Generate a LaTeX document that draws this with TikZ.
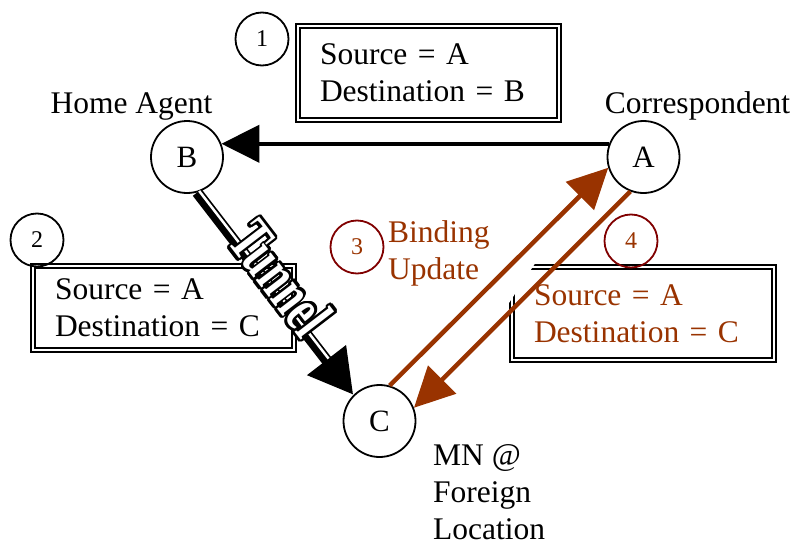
\documentclass[tikz,border=0pt]{standalone}
\usepackage{fontspec}
\setmainfont{Liberation Serif}
\usepackage{contour}
\usetikzlibrary{arrows.meta}

\definecolor{rust}{RGB}{153,51,0}
\definecolor{darkred}{RGB}{128,0,0}
\contourlength{2pt}

\tikzset{
	host/.style={shape=circle, draw, line width=1.8pt, minimum size=72pt, inner sep=0pt, font=\fontsize{31}{33}\selectfont},
	numbadge/.style={shape=circle, draw, line width=1.8pt, minimum size=53pt, inner sep=0pt, font=\fontsize{24}{26}\selectfont},
	packet/.style={shape=rectangle, draw, line width=1.6pt, double, double distance=2.5pt, align=left, inner xsep=22pt, inner ysep=0pt},
	flow/.style={line width=4.5pt, -{Triangle[length=40pt, width=39pt]}}
}

\begin{document}
\begin{tikzpicture}[x=1pt, y=-1pt, font=\fontsize{31.5}{37}\selectfont]
	\useasboundingbox (0, 0) rectangle (796, 541);
	% Packets, hosts and wires:
	\node[packet, text width=217pt, minimum height=94.3pt] (pktAB) at (428.5, 73) {Source = A\\Destination = B};
	\node[packet, text width=217pt, minimum height=84.3pt] (pktAC) at (163.5, 308) {Source = A\\Destination = C};
	\node[packet, text width=218pt, minimum height=93.3pt, text=rust] (pktBU) at (643, 313.5) {Source = A\\Destination = C};
	\fill[white] (505, 259) -- (538, 259) -- (505, 309) -- cycle;
	\node[host] (B) at (187, 157) {B};
	\node[host] (A) at (643.5, 157) {A};
	\node[host] (C) at (379.5, 421) {C};
	\node[numbadge] (n1) at (262, 39) {1};
	\node[numbadge] (n2) at (37, 240) {2};
	\node[numbadge, draw=darkred, text=rust] (n3) at (357, 247) {3};
	\node[numbadge, draw=darkred, text=rust] (n4) at (631, 241) {4};
	\node[anchor=base] (home) at (131.5, 113) {Home Agent};
	\node[anchor=base] (corr) at (697.5, 113) {Correspondent};
	\node[anchor=north west, align=left, inner sep=0pt] (mn) at (433, 444) {MN @\\Foreign\\Location};
	\node[anchor=north west, align=left, inner sep=0pt, text=rust] (bind) at (388, 220) {Binding\\Update};
	\draw[line width=4.5pt, -{Triangle[length=38pt, width=37pt]}] (A.159) -- (B.21);
	\draw[line width=11pt, -{Triangle[length=44pt, width=46pt]}] (B.-74) -- (C.135);
	\draw[white, line width=2.5pt, shorten >=44pt] ([xshift=2pt, yshift=1.5pt]B.-74) -- ([xshift=2pt, yshift=1.5pt]C.135);
	\draw[flow, rust] (C.74) -- (A.197);
	\draw[flow, rust] (A.249) -- (C.21);
	\node[rotate=-52.5, font=\bfseries\fontsize{42}{42}\selectfont] (tunnel) at (280, 279) {\scalebox{1}[1.5]{\contour{black}{\textcolor{white}{Tunnel}}}};
\end{tikzpicture}
\end{document}
